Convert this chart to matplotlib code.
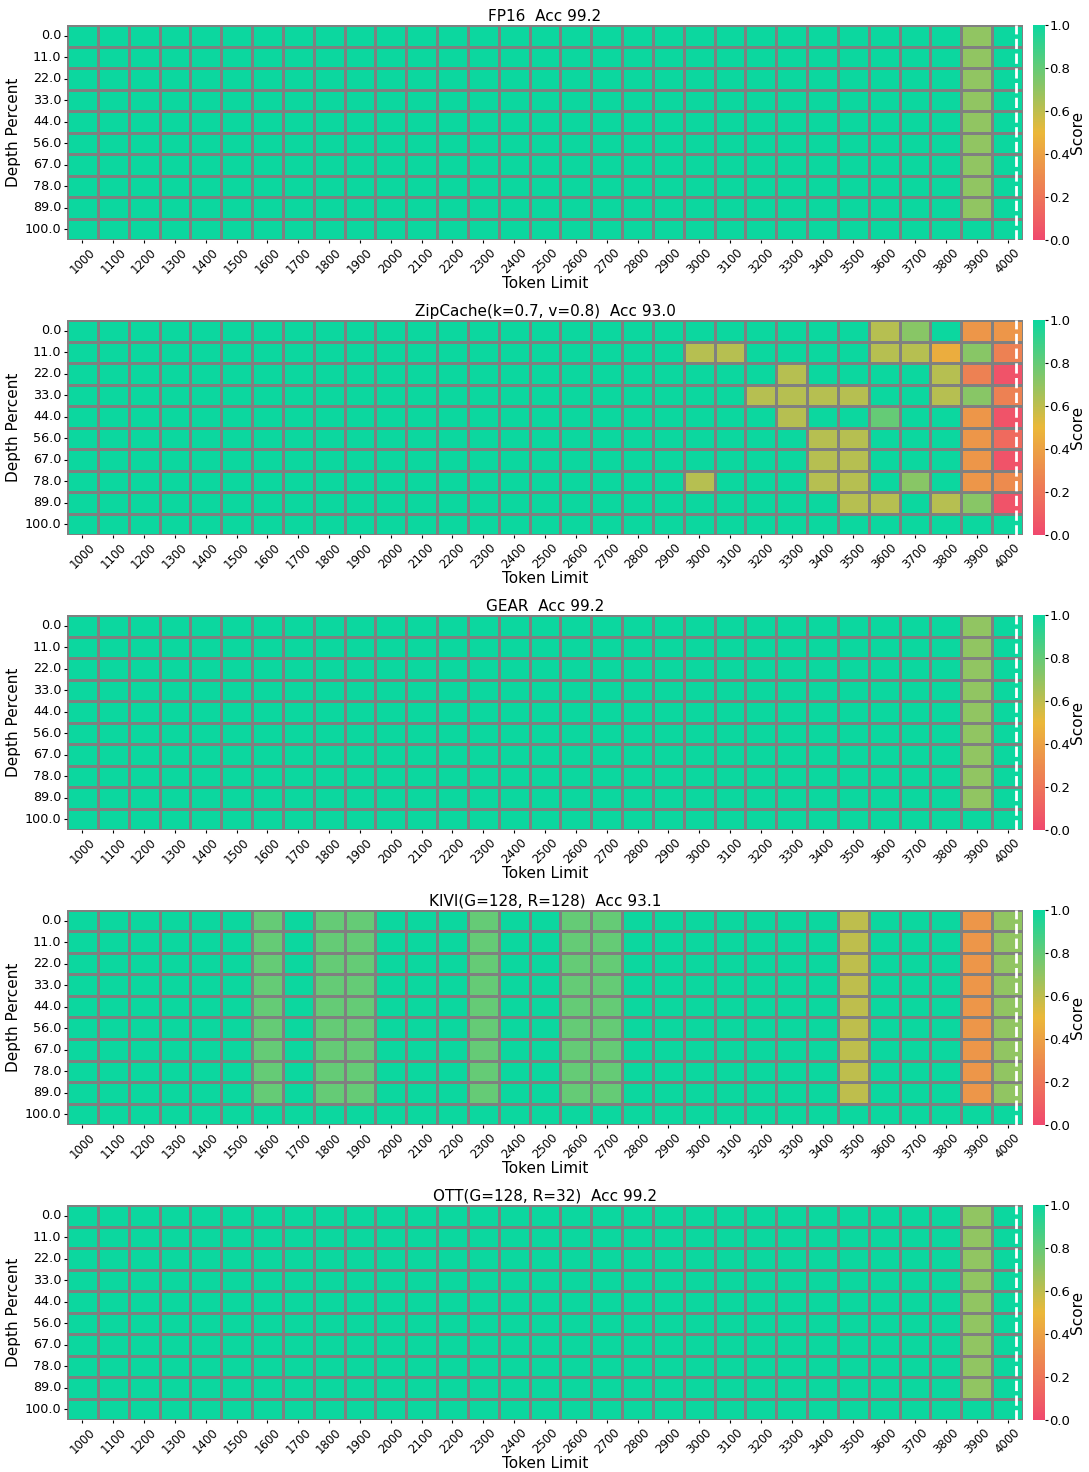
import numpy as np
import pandas as pd
import seaborn as sns
from matplotlib import pyplot as plt
from matplotlib.colors import LinearSegmentedColormap

plt.rcParams['font.family'] = ['DejaVu Sans']

token_limits = [1000, 1100, 1200, 1300, 1400, 1500, 1600, 1700, 1800, 1900,
                2000, 2100, 2200, 2300, 2400, 2500, 2600, 2700, 2800, 2900,
                3000, 3100, 3200, 3300, 3400, 3500, 3600, 3700, 3800, 3900, 4000]
depth_percents = [0.0, 11.0, 22.0, 33.0, 44.0, 56.0, 67.0, 78.0, 89.0, 100.0]

#          1000 ........................ 1900 | 2000 ......................... 2900 | 3000 ............................................. 4000
fp16 = [
    [1, 1, 1, 1, 1, 1, 1, 1, 1, 1,  1, 1, 1, 1, 1, 1, 1, 1, 1, 1,  1, 1, 1, 1, 1, 1, 1, 1, 1, 0.7, 1],
    [1, 1, 1, 1, 1, 1, 1, 1, 1, 1,  1, 1, 1, 1, 1, 1, 1, 1, 1, 1,  1, 1, 1, 1, 1, 1, 1, 1, 1, 0.7, 1],
    [1, 1, 1, 1, 1, 1, 1, 1, 1, 1,  1, 1, 1, 1, 1, 1, 1, 1, 1, 1,  1, 1, 1, 1, 1, 1, 1, 1, 1, 0.7, 1],
    [1, 1, 1, 1, 1, 1, 1, 1, 1, 1,  1, 1, 1, 1, 1, 1, 1, 1, 1, 1,  1, 1, 1, 1, 1, 1, 1, 1, 1, 0.7, 1],
    [1, 1, 1, 1, 1, 1, 1, 1, 1, 1,  1, 1, 1, 1, 1, 1, 1, 1, 1, 1,  1, 1, 1, 1, 1, 1, 1, 1, 1, 0.7, 1],
    [1, 1, 1, 1, 1, 1, 1, 1, 1, 1,  1, 1, 1, 1, 1, 1, 1, 1, 1, 1,  1, 1, 1, 1, 1, 1, 1, 1, 1, 0.7, 1],
    [1, 1, 1, 1, 1, 1, 1, 1, 1, 1,  1, 1, 1, 1, 1, 1, 1, 1, 1, 1,  1, 1, 1, 1, 1, 1, 1, 1, 1, 0.7, 1],
    [1, 1, 1, 1, 1, 1, 1, 1, 1, 1,  1, 1, 1, 1, 1, 1, 1, 1, 1, 1,  1, 1, 1, 1, 1, 1, 1, 1, 1, 0.7, 1],
    [1, 1, 1, 1, 1, 1, 1, 1, 1, 1,  1, 1, 1, 1, 1, 1, 1, 1, 1, 1,  1, 1, 1, 1, 1, 1, 1, 1, 1, 0.7, 1],
    [1, 1, 1, 1, 1, 1, 1, 1, 1, 1,  1, 1, 1, 1, 1, 1, 1, 1, 1, 1,  1, 1, 1, 1, 1, 1, 1, 1, 1, 1, 1],
]

zipcache = [
    [1, 1, 1, 1, 1, 1, 1, 1, 1, 1,  1, 1, 1, 1, 1, 1, 1, 1, 1, 1,  1, 1, 1, 1, 1, 1, 0.62, 0.72, 1, 0.35, 0.35],
    [1, 1, 1, 1, 1, 1, 1, 1, 1, 1,  1, 1, 1, 1, 1, 1, 1, 1, 1, 1,  0.62, 0.62, 1, 1, 1, 1, 0.62, 0.62, 0.45, 0.72, 0.25],
    [1, 1, 1, 1, 1, 1, 1, 1, 1, 1,  1, 1, 1, 1, 1, 1, 1, 1, 1, 1,  1, 1, 1, 0.62, 1, 1, 1, 1, 0.62, 0.25, 0.05],
    [1, 1, 1, 1, 1, 1, 1, 1, 1, 1,  1, 1, 1, 1, 1, 1, 1, 1, 1, 1,  1, 1, 0.62, 0.62, 0.62, 0.62, 1, 1, 0.62, 0.72, 0.25],
    [1, 1, 1, 1, 1, 1, 1, 1, 1, 1,  1, 1, 1, 1, 1, 1, 1, 1, 1, 1,  1, 1, 1, 0.62, 1, 1, 0.8, 1, 1, 0.35, 0.05],
    [1, 1, 1, 1, 1, 1, 1, 1, 1, 1,  1, 1, 1, 1, 1, 1, 1, 1, 1, 1,  1, 1, 1, 1, 0.62, 0.62, 1, 1, 1, 0.35, 0.15],
    [1, 1, 1, 1, 1, 1, 1, 1, 1, 1,  1, 1, 1, 1, 1, 1, 1, 1, 1, 1,  1, 1, 1, 1, 0.62, 0.62, 1, 1, 1, 0.35, 0.05],
    [1, 1, 1, 1, 1, 1, 1, 1, 1, 1,  1, 1, 1, 1, 1, 1, 1, 1, 1, 1,  0.62, 1, 1, 1, 0.62, 0.62, 1, 0.72, 1, 0.35, 0.3],
    [1, 1, 1, 1, 1, 1, 1, 1, 1, 1,  1, 1, 1, 1, 1, 1, 1, 1, 1, 1,  1, 1, 1, 1, 1, 0.62, 0.62, 1, 0.62, 0.72, 0.05],
    [1, 1, 1, 1, 1, 1, 1, 1, 1, 1,  1, 1, 1, 1, 1, 1, 1, 1, 1, 1,  1, 1, 1, 1, 1, 1, 1, 1, 1, 1, 1],
]

gear = [
    [1, 1, 1, 1, 1, 1, 1, 1, 1, 1,  1, 1, 1, 1, 1, 1, 1, 1, 1, 1,  1, 1, 1, 1, 1, 1, 1, 1, 1, 0.7, 1],
    [1, 1, 1, 1, 1, 1, 1, 1, 1, 1,  1, 1, 1, 1, 1, 1, 1, 1, 1, 1,  1, 1, 1, 1, 1, 1, 1, 1, 1, 0.7, 1],
    [1, 1, 1, 1, 1, 1, 1, 1, 1, 1,  1, 1, 1, 1, 1, 1, 1, 1, 1, 1,  1, 1, 1, 1, 1, 1, 1, 1, 1, 0.7, 1],
    [1, 1, 1, 1, 1, 1, 1, 1, 1, 1,  1, 1, 1, 1, 1, 1, 1, 1, 1, 1,  1, 1, 1, 1, 1, 1, 1, 1, 1, 0.7, 1],
    [1, 1, 1, 1, 1, 1, 1, 1, 1, 1,  1, 1, 1, 1, 1, 1, 1, 1, 1, 1,  1, 1, 1, 1, 1, 1, 1, 1, 1, 0.7, 1],
    [1, 1, 1, 1, 1, 1, 1, 1, 1, 1,  1, 1, 1, 1, 1, 1, 1, 1, 1, 1,  1, 1, 1, 1, 1, 1, 1, 1, 1, 0.7, 1],
    [1, 1, 1, 1, 1, 1, 1, 1, 1, 1,  1, 1, 1, 1, 1, 1, 1, 1, 1, 1,  1, 1, 1, 1, 1, 1, 1, 1, 1, 0.7, 1],
    [1, 1, 1, 1, 1, 1, 1, 1, 1, 1,  1, 1, 1, 1, 1, 1, 1, 1, 1, 1,  1, 1, 1, 1, 1, 1, 1, 1, 1, 0.7, 1],
    [1, 1, 1, 1, 1, 1, 1, 1, 1, 1,  1, 1, 1, 1, 1, 1, 1, 1, 1, 1,  1, 1, 1, 1, 1, 1, 1, 1, 1, 0.7, 1],
    [1, 1, 1, 1, 1, 1, 1, 1, 1, 1,  1, 1, 1, 1, 1, 1, 1, 1, 1, 1,  1, 1, 1, 1, 1, 1, 1, 1, 1, 1, 1],
]

kivi = [
    [1, 1, 1, 1, 1, 1, 0.8, 1, 0.8, 0.8,  1, 1, 1, 0.8, 1, 1, 0.8, 0.8, 1, 1,  1, 1, 1, 1, 1, 0.6, 1, 1, 1, 0.35, 0.7],
    [1, 1, 1, 1, 1, 1, 0.8, 1, 0.8, 0.8,  1, 1, 1, 0.8, 1, 1, 0.8, 0.8, 1, 1,  1, 1, 1, 1, 1, 0.6, 1, 1, 1, 0.35, 0.7],
    [1, 1, 1, 1, 1, 1, 0.8, 1, 0.8, 0.8,  1, 1, 1, 0.8, 1, 1, 0.8, 0.8, 1, 1,  1, 1, 1, 1, 1, 0.6, 1, 1, 1, 0.35, 0.7],
    [1, 1, 1, 1, 1, 1, 0.8, 1, 0.8, 0.8,  1, 1, 1, 0.8, 1, 1, 0.8, 0.8, 1, 1,  1, 1, 1, 1, 1, 0.6, 1, 1, 1, 0.35, 0.7],
    [1, 1, 1, 1, 1, 1, 0.8, 1, 0.8, 0.8,  1, 1, 1, 0.8, 1, 1, 0.8, 0.8, 1, 1,  1, 1, 1, 1, 1, 0.6, 1, 1, 1, 0.35, 0.7],
    [1, 1, 1, 1, 1, 1, 0.8, 1, 0.8, 0.8,  1, 1, 1, 0.8, 1, 1, 0.8, 0.8, 1, 1,  1, 1, 1, 1, 1, 0.6, 1, 1, 1, 0.35, 0.7],
    [1, 1, 1, 1, 1, 1, 0.8, 1, 0.8, 0.8,  1, 1, 1, 0.8, 1, 1, 0.8, 0.8, 1, 1,  1, 1, 1, 1, 1, 0.6, 1, 1, 1, 0.35, 0.7],
    [1, 1, 1, 1, 1, 1, 0.8, 1, 0.8, 0.8,  1, 1, 1, 0.8, 1, 1, 0.8, 0.8, 1, 1,  1, 1, 1, 1, 1, 0.6, 1, 1, 1, 0.35, 0.7],
    [1, 1, 1, 1, 1, 1, 0.8, 1, 0.8, 0.8,  1, 1, 1, 0.8, 1, 1, 0.8, 0.8, 1, 1,  1, 1, 1, 1, 1, 0.6, 1, 1, 1, 0.35, 0.7],
    [1, 1, 1, 1, 1, 1, 1, 1, 1, 1,  1, 1, 1, 1, 1, 1, 1, 1, 1, 1,  1, 1, 1, 1, 1, 1, 1, 1, 1, 1, 1],
]

ott = [
    [1, 1, 1, 1, 1, 1, 1, 1, 1, 1,  1, 1, 1, 1, 1, 1, 1, 1, 1, 1,  1, 1, 1, 1, 1, 1, 1, 1, 1, 0.7, 1],
    [1, 1, 1, 1, 1, 1, 1, 1, 1, 1,  1, 1, 1, 1, 1, 1, 1, 1, 1, 1,  1, 1, 1, 1, 1, 1, 1, 1, 1, 0.7, 1],
    [1, 1, 1, 1, 1, 1, 1, 1, 1, 1,  1, 1, 1, 1, 1, 1, 1, 1, 1, 1,  1, 1, 1, 1, 1, 1, 1, 1, 1, 0.7, 1],
    [1, 1, 1, 1, 1, 1, 1, 1, 1, 1,  1, 1, 1, 1, 1, 1, 1, 1, 1, 1,  1, 1, 1, 1, 1, 1, 1, 1, 1, 0.7, 1],
    [1, 1, 1, 1, 1, 1, 1, 1, 1, 1,  1, 1, 1, 1, 1, 1, 1, 1, 1, 1,  1, 1, 1, 1, 1, 1, 1, 1, 1, 0.7, 1],
    [1, 1, 1, 1, 1, 1, 1, 1, 1, 1,  1, 1, 1, 1, 1, 1, 1, 1, 1, 1,  1, 1, 1, 1, 1, 1, 1, 1, 1, 0.7, 1],
    [1, 1, 1, 1, 1, 1, 1, 1, 1, 1,  1, 1, 1, 1, 1, 1, 1, 1, 1, 1,  1, 1, 1, 1, 1, 1, 1, 1, 1, 0.7, 1],
    [1, 1, 1, 1, 1, 1, 1, 1, 1, 1,  1, 1, 1, 1, 1, 1, 1, 1, 1, 1,  1, 1, 1, 1, 1, 1, 1, 1, 1, 0.7, 1],
    [1, 1, 1, 1, 1, 1, 1, 1, 1, 1,  1, 1, 1, 1, 1, 1, 1, 1, 1, 1,  1, 1, 1, 1, 1, 1, 1, 1, 1, 0.7, 1],
    [1, 1, 1, 1, 1, 1, 1, 1, 1, 1,  1, 1, 1, 1, 1, 1, 1, 1, 1, 1,  1, 1, 1, 1, 1, 1, 1, 1, 1, 1, 1],
]

titles = ["FP16  Acc 99.2",
          "ZipCache(k=0.7, v=0.8)  Acc 93.0",
          "GEAR  Acc 99.2",
          "KIVI(G=128, R=128)  Acc 93.1",
          "OTT(G=128, R=32)  Acc 99.2"]
results = [fp16, zipcache, gear, kivi, ott]

# position of the dashed marker (in cell units)
context_marker = 30.77

cmap = LinearSegmentedColormap.from_list("custom_cmap", ["#F0496E", "#EBB839", "#0CD79F"])

W, H = 1089, 1472
fig = plt.figure(figsize=(W / 100, H / 100), dpi=100)

for i, (title, res) in enumerate(zip(titles, results)):
    top = 25 + i * 295
    ax = fig.add_axes([67 / W, 1 - (top + 215) / H, 956 / W, 215 / H])
    cax = fig.add_axes([1033 / W, 1 - (top + 215) / H, 12 / W, 215 / H])

    df = pd.DataFrame(np.array(res, dtype=float), index=depth_percents, columns=token_limits)
    sns.heatmap(df, ax=ax, cbar_ax=cax, cmap=cmap, vmin=0, vmax=1,
                linewidths=0.8, linecolor='grey',
                xticklabels=token_limits, yticklabels=depth_percents,
                cbar_kws={'label': 'Score'})

    ax.axvline(x=context_marker, color='white', linestyle='--', linewidth=2)
    ax.set_title(title, fontsize=11, pad=3)
    ax.set_xlabel("Token Limit", fontsize=11, labelpad=0)
    ax.set_ylabel("Depth Percent", fontsize=11, labelpad=3)
    ax.tick_params(axis='x', labelsize=8.5, length=2.5, pad=2)
    ax.tick_params(axis='y', labelsize=9.2, length=2.5, pad=1.5)
    plt.setp(ax.get_xticklabels(), rotation=45, ha='center')
    plt.setp(ax.get_yticklabels(), rotation=0)

    cax.tick_params(labelsize=9.5, length=2, pad=1)
    cax.set_ylabel('Score', fontsize=11, labelpad=0)

fig.savefig("out.png", dpi=100)
